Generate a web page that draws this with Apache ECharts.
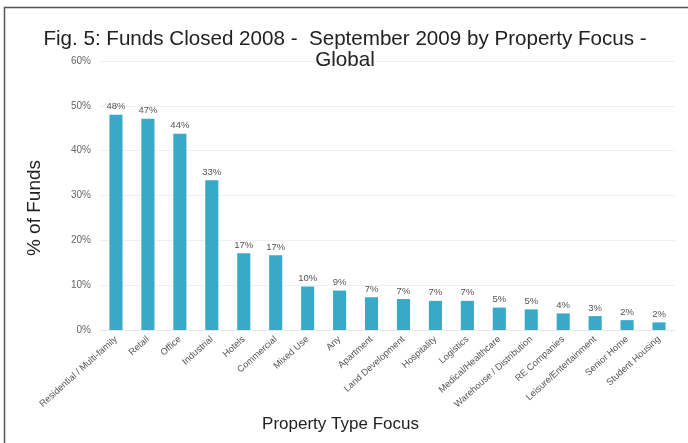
<!DOCTYPE html>
<html>
<head>
<meta charset="utf-8">
<script src="https://cdn.jsdelivr.net/npm/echarts@6/dist/echarts.min.js"></script>
<style>html,body{margin:0;padding:0;background:#fff;}#c{width:688px;height:443px;}</style>
</head>
<body>
<div id="c"></div>
<script>
var categories = ['Residential / Multi-family','Retail','Office','Industrial','Hotels','Commercial','Mixed Use','Any','Apartment','Land Development','Hospitality','Logistics','Medical/Healthcare','Warehouse / Distribution','RE Companies','Leisure/Entertainment','Senior Home','Student Housing'];
var values = [48.0, 47.1, 43.8, 33.4, 17.1, 16.7, 9.7, 8.8, 7.3, 6.9, 6.5, 6.5, 5.0, 4.6, 3.7, 3.1, 2.2, 1.7];
var yTicks = [0, 10, 20, 30, 40, 50, 60];

var chart = echarts.init(document.getElementById('c'));
chart.setOption({
  animation: false,
  backgroundColor: '#fff',
  title: {
    text: 'Fig. 5: Funds Closed 2008 -  September 2009 by Property Focus -\nGlobal',
    left: 340, top: 24, textAlign: 'center',
    textStyle: {fontFamily: 'Liberation Sans, Arial', fontSize: 20.6, fontWeight: 'normal', color: '#222', lineHeight: 21}
  },
  graphic: [{
    type: 'rect', shape: {x: 4.5, y: 7.5, width: 700, height: 460},
    style: {fill: 'none', stroke: '#555', lineWidth: 1.5}, silent: true, z: -1
  }, {
    type: 'text', x: 35, y: 208, rotation: Math.PI / 2,
    style: {text: '% of Funds', fontFamily: 'Liberation Sans, Arial', fontSize: 19, fill: '#222', align: 'center', verticalAlign: 'middle'},
    silent: true
  }],
  grid: {left: 100, right: 13, top: 61, bottom: 113},
  xAxis: {
    type: 'category', data: categories,
    name: 'Property Type Focus', nameLocation: 'middle', nameGap: 85,
    nameTextStyle: {fontFamily: 'Liberation Sans, Arial', fontSize: 17, color: '#222', padding: [0, 94, 0, 0]},
    axisLine: {lineStyle: {color: '#e6e6e6'}},
    axisTick: {show: false},
    axisLabel: {rotate: 42, interval: 0, fontSize: 9.3, color: '#555', fontFamily: 'Liberation Sans, Arial', margin: 8}
  },
  yAxis: {
    type: 'value', min: yTicks[0], max: yTicks[yTicks.length-1], interval: 10,
    axisLine: {show: false}, axisTick: {show: false},
    splitLine: {lineStyle: {color: '#f0f0f0'}},
    axisLabel: {formatter: '{value}%', fontSize: 10, color: '#666', fontFamily: 'Liberation Sans, Arial', margin: 9}
  },
  series: [{
    type: 'bar', data: values, barWidth: '41%',
    itemStyle: {color: '#3aa9c8'},
    label: {show: true, position: 'top', distance: 3, fontSize: 9.5, color: '#555', fontFamily: 'Liberation Sans, Arial',
      formatter: function(p){ return Math.round(p.value) + '%'; }}
  }]
});
</script>
</body>
</html>
